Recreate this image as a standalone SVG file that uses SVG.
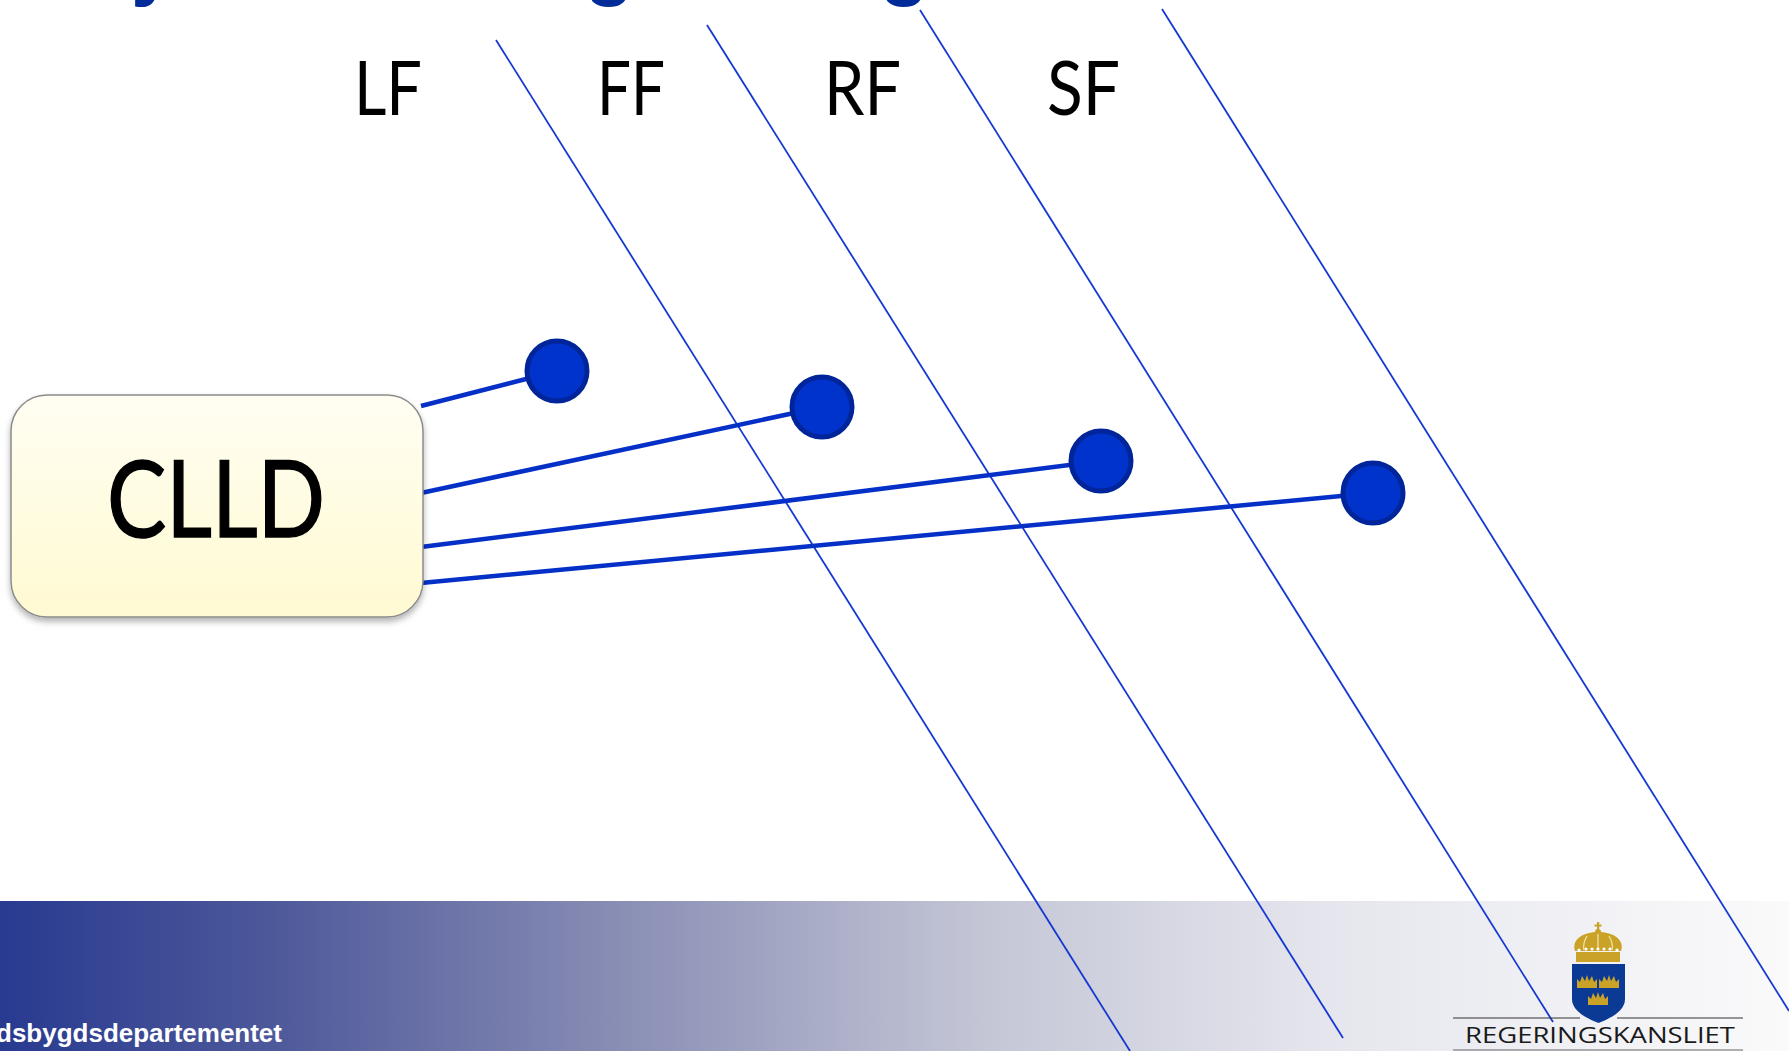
<svg xmlns="http://www.w3.org/2000/svg" width="1789" height="1051" viewBox="0 0 1789 1051">
  <defs>
    <linearGradient id="boxFill" x1="0" y1="0" x2="0" y2="1">
      <stop offset="0" stop-color="#fffef2"/>
      <stop offset="1" stop-color="#fffad2"/>
    </linearGradient>
    <linearGradient id="footer" x1="0" y1="0" x2="1" y2="0">
      <stop offset="0" stop-color="#283a90"/>
      <stop offset="0.15" stop-color="#4d589a"/>
      <stop offset="0.35" stop-color="#8a8fb5"/>
      <stop offset="0.55" stop-color="#c4c6d6"/>
      <stop offset="0.75" stop-color="#e6e7ee"/>
      <stop offset="1" stop-color="#fafafb"/>
    </linearGradient>
    <filter id="shadow" x="-10%" y="-10%" width="120%" height="130%">
      <feDropShadow dx="0" dy="4" stdDeviation="3" flood-color="#000" flood-opacity="0.3"/>
    </filter>
    <path id="minicrown" d="M0,13 L0,4 L3,7 L5,1 L8,6 L10,0 L12,6 L15,1 L17,7 L20,4 L20,13 Z"/>
    <style>
      .title { font-family: "Liberation Sans", Arial, sans-serif; font-weight: bold; font-size: 80px; fill: #002b99; }
      .label { font-family: Lato, "Open Sans", sans-serif; font-size: 76px; fill: #000; }
      .guide { stroke: #1538d0; stroke-width: 1.8; fill: none; }
      .conn { stroke: #0530c8; stroke-width: 4.5; fill: none; }
      .dot { fill: #0033cc; stroke: #00259a; stroke-width: 5; }
      .gold { fill: #c9a227; }
    </style>
  </defs>

  <rect x="0" y="0" width="1789" height="1051" fill="#ffffff"/>

  <!-- cut-off title fragments -->
  <g id="title">
    <text class="title" x="131" y="-10">y</text>
    <text class="title" x="585" y="-10">g</text>
    <text class="title" x="880" y="-10">g</text>
  </g>

  <!-- footer band -->
  <g id="footer">
    <rect x="0" y="901" width="1789" height="150" fill="url(#footer)"/>
    <text x="-4" y="1042" font-family="Liberation Sans, Arial, sans-serif" font-weight="bold" font-size="26" fill="#ffffff" textLength="286" lengthAdjust="spacingAndGlyphs">dsbygdsdepartementet</text>
  </g>

  <!-- column labels -->
  <g id="labels">
    <text class="label" x="354" y="115" textLength="68" lengthAdjust="spacingAndGlyphs">LF</text>
    <text class="label" x="597" y="115" textLength="68" lengthAdjust="spacingAndGlyphs">FF</text>
    <text class="label" x="824" y="115" textLength="77" lengthAdjust="spacingAndGlyphs">RF</text>
    <text class="label" x="1047" y="115" textLength="73" lengthAdjust="spacingAndGlyphs">SF</text>
  </g>

  <!-- connectors -->
  <g id="connectors">
    <line class="guide" x1="496" y1="40" x2="1130" y2="1051"/>
    <line class="guide" x1="707" y1="25" x2="1343" y2="1038"/>
    <line class="guide" x1="920" y1="10" x2="1553" y2="1022"/>
    <line class="guide" x1="1162" y1="9" x2="1789" y2="1011"/>
    <line class="conn" x1="421" y1="406" x2="557" y2="371"/>
    <line class="conn" x1="421" y1="493" x2="822" y2="407"/>
    <line class="conn" x1="421" y1="547" x2="1101" y2="461"/>
    <line class="conn" x1="421" y1="583" x2="1373" y2="493"/>
  </g>

  <!-- CLLD node -->
  <g id="clld">
    <rect x="11" y="395" width="412" height="222" rx="36" ry="36" fill="url(#boxFill)" stroke="#8c8c8c" stroke-width="1.5" filter="url(#shadow)"/>
    <text x="216" y="537" text-anchor="middle" font-family="Lato, 'Open Sans', sans-serif" font-size="106" fill="#000" stroke="#000" stroke-width="1.5" textLength="218" lengthAdjust="spacingAndGlyphs">CLLD</text>
  </g>

  <!-- fund nodes -->
  <g id="node-lf"><circle class="dot" cx="557" cy="371" r="30"/></g>
  <g id="node-ff"><circle class="dot" cx="822" cy="407" r="30"/></g>
  <g id="node-rf"><circle class="dot" cx="1101" cy="461" r="30"/></g>
  <g id="node-sf"><circle class="dot" cx="1373" cy="493" r="30"/></g>

  <!-- logo -->
  <g id="logo">
    <rect class="gold" x="1597" y="922" width="2.2" height="9"/>
    <rect class="gold" x="1594.5" y="924.5" width="7" height="2"/>
    <circle class="gold" cx="1598" cy="932" r="3"/>
    <path class="gold" d="M1575,951 C1571,939 1584,932 1598,932 C1612,932 1625,939 1621,951 Z"/>
    <path d="M1598,934 L1598,950 M1587,936 C1584,941 1583,946 1584,950 M1609,936 C1612,941 1613,946 1612,950" stroke="#f0e2a8" stroke-width="1.3" fill="none"/>
    <g fill="#ffffff">
      <circle cx="1579" cy="950" r="1.6"/><circle cx="1586" cy="949" r="1.6"/><circle cx="1592" cy="949" r="1.6"/>
      <circle cx="1598" cy="949" r="1.6"/><circle cx="1604" cy="949" r="1.6"/><circle cx="1610" cy="949" r="1.6"/><circle cx="1617" cy="950" r="1.6"/>
    </g>
    <rect class="gold" x="1576" y="952" width="44" height="10"/>
    <path d="M1572,964 L1625,964 L1625,999 Q1625,1013 1598.5,1023 Q1572,1013 1572,999 Z" fill="#0b3a94"/>
    <use href="#minicrown" class="gold" x="1577" y="975"/>
    <use href="#minicrown" class="gold" x="1599" y="975"/>
    <use href="#minicrown" class="gold" x="1588" y="992"/>
    <path d="M1453,1018 L1580,1018 M1617,1018 L1743,1018" stroke="#333333" stroke-width="1.2" fill="none"/>
    <text x="1465" y="1043" font-family="'Open Sans', 'Liberation Sans', sans-serif" font-size="21.5" fill="#1a1a1a" textLength="270" lengthAdjust="spacingAndGlyphs">REGERINGSKANSLIET</text>
    <path d="M1453,1050 L1743,1050" stroke="#666666" stroke-width="1.2" fill="none"/>
  </g>
</svg>
